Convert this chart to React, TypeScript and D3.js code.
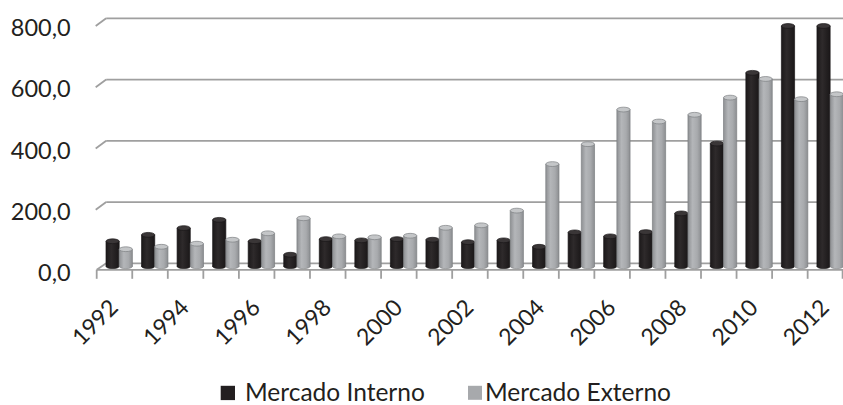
import React from "react";
import * as d3 from "d3";

const years = ["1992","1993","1994","1995","1996","1997","1998","1999","2000","2001","2002","2003","2004","2005","2006","2007","2008","2009","2010","2011","2012"];
const interno = [87,108,130,157,87,43,94,90,94,92,84,90,69,116,103,117,178,406,637,790,790];
const externo = [61,69,79,92,113,162,103,100,105,131,139,187,339,404,517,478,500,556,617,551,567];
const yTicks = [0,200,400,600,800];
const labelYears = ["1992","1994","1996","1998","2000","2002","2004","2006","2008","2010","2012"];
const seriesNames = ["Mercado Interno","Mercado Externo"];

const W = 843, H = 405;
const DX = 9.5, DY = 6.5;
const FONT = "Lato, 'Open Sans', sans-serif";

export default function App() {
  const x = d3.scaleBand<string>().domain(years).range([96.7, 843.2]).padding(0);
  const yBack = d3.scaleLinear().domain([0, 800]).range([263.3, 18.3]);
  const bw = x.bandwidth();
  const barW = 13.2;
  const grid = "#9f9f9f";
  const ry = 2.4;

  const bar = (key: string, i: number, v: number, kind: number) => {
    const bx = (x(years[i]) as number) + DX - 0.2 + kind * barW;
    const topC = yBack(v) + 2.2 + ry;
    const baseC = yBack(0) + 3.0;
    const fill = kind === 0 ? "url(#gBlack)" : "url(#gGray)";
    const capFill = kind === 0 ? "#3a3637" : "#c4c6c8";
    const stroke = kind === 0 ? "#1a1718" : "#7d7f82";
    return (
      <g key={key}>
        <ellipse cx={bx + barW / 2} cy={baseC} rx={barW / 2} ry={ry} fill={fill} stroke={stroke} strokeWidth={0.6} />
        <rect x={bx} y={topC} width={barW} height={Math.max(0, baseC - topC)} fill={fill} />
        <line x1={bx} x2={bx} y1={topC} y2={baseC} stroke={stroke} strokeWidth={0.7} />
        <line x1={bx + barW} x2={bx + barW} y1={topC} y2={baseC} stroke={stroke} strokeWidth={0.7} />
        <ellipse cx={bx + barW / 2} cy={topC} rx={barW / 2} ry={ry} fill={capFill} stroke={stroke} strokeWidth={0.7} />
      </g>
    );
  };

  const x0 = 96.7;
  const xEnd = 843.2;

  return (
    <svg width={W} height={H} style={{ position: "absolute", left: 0, top: 0, background: "#fff" }} fontFamily={FONT}>
      <defs>
        <linearGradient id="gBlack" x1="0" x2="1" y1="0" y2="0">
          <stop offset="0" stopColor="#1c191a" />
          <stop offset="0.4" stopColor="#2e2a2b" />
          <stop offset="1" stopColor="#1a1718" />
        </linearGradient>
        <linearGradient id="gGray" x1="0" x2="1" y1="0" y2="0">
          <stop offset="0" stopColor="#8e9093" />
          <stop offset="0.35" stopColor="#b4b6b9" />
          <stop offset="0.7" stopColor="#a8aaad" />
          <stop offset="1" stopColor="#8c8e91" />
        </linearGradient>
      </defs>
      <rect width={W} height={H} fill="#fff" />
      {yTicks.map((t) => {
        const yb = yBack(t);
        if (t === 0) return null;
        return (
          <g key={"g" + t}>
            <line x1={x0 - 1} y1={yb + DY + 1.2} x2={x0 + DX} y2={yb} stroke={grid} strokeWidth={1.8} />
            <line x1={x0 + DX} y1={yb} x2={xEnd} y2={yb} stroke={grid} strokeWidth={1.8} />
          </g>
        );
      })}
      <line x1={x0} y1={yBack(0) + DY} x2={x0 + DX} y2={yBack(0)} stroke={grid} strokeWidth={1.8} />
      <line x1={x0 + DX} y1={yBack(0)} x2={xEnd} y2={yBack(0)} stroke={grid} strokeWidth={1.8} />
      {years.map((yr, i) => (
        <g key={yr}>
          {bar(yr + "a", i, interno[i], 0)}
          {bar(yr + "b", i, externo[i], 1)}
        </g>
      ))}
      <line x1={x0} y1={yBack(0) + DY} x2={xEnd} y2={yBack(0) + DY} stroke={grid} strokeWidth={1.8} />
      {years.concat(["end"]).map((yr, i) => {
        const tx = i < years.length ? (x(yr) as number) : xEnd - 0.6;
        return <line key={"t" + i} x1={tx} x2={tx} y1={yBack(0) + DY} y2={yBack(0) + DY + 9} stroke={grid} strokeWidth={1.8} />;
      })}
      {yTicks.map((t) => (
        <text key={"yl" + t} x={70.7} y={yBack(t) + 17.8} textAnchor="end" fontSize={23.5} fill="#231f20">
          {d3.format(".1f")(t).replace(".", ",")}
        </text>
      ))}
      {labelYears.map((yr) => {
        const cx = (x(yr) as number) + bw / 2 + 5;
        const cy = 309;
        return (
          <text key={"xl" + yr} x={cx} y={cy} textAnchor="end" fontSize={23} fill="#231f20" transform={`rotate(-45 ${cx} ${cy})`}>
            {yr}
          </text>
        );
      })}
      <rect x={220.7} y={385.8} width={14.3} height={14.3} fill="#231f20" />
      <text x={245} y={400.5} fontSize={24.5} fill="#231f20">{seriesNames[0]}</text>
      <rect x={468} y={385.8} width={14} height={14} fill="#a7a9ac" />
      <text x={485} y={400.5} fontSize={24.5} fill="#231f20">{seriesNames[1]}</text>
    </svg>
  );
}
